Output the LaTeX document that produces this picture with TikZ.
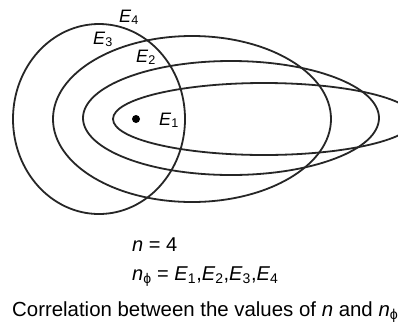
\documentclass[tikz,border=0pt]{standalone}
\usepackage{fontspec}
\setmainfont{Liberation Sans}

\begin{document}
\begin{tikzpicture}[
		x=1pt, y=-1pt,
		orbit/.style={line width=1.8pt, draw=black!85},
		lab/.style={inner sep=0pt, anchor=base west, font=\fontsize{18}{21}\selectfont},
		txt/.style={inner sep=0pt, anchor=base west, font=\fontsize{20}{24}\selectfont}
		]
		
		% ==========================================
		% PAGE FRAME (picture is cut on the right)
		% ==========================================
		\clip (0,0) rectangle (398,322);
		\fill[white] (0,0) rectangle (398,322);
		
		% ==========================================
		% ORBITS E1 .. E4
		% ==========================================
		\draw[orbit] (99,119) ellipse [x radius=86pt, y radius=95pt];   % E4
		\draw[orbit] (192,119) ellipse [x radius=139pt, y radius=83pt]; % E3
		\draw[orbit] (231,118) ellipse [x radius=148pt, y radius=57pt]; % E2
		\draw[orbit] (264,119) ellipse [x radius=151pt, y radius=36pt]; % E1
		
		% Nucleus
		\node[circle, fill=black, inner sep=0pt, minimum size=8pt] (nucleus) at (136,119) {};
		
		% Orbit labels
		\node[lab] (E1) at (159,125) {\textit{E}\textsubscript{1}};
		\node[lab] (E2) at (136,62) {\textit{E}\textsubscript{2}};
		\node[lab] (E3) at (93,44) {\textit{E}\textsubscript{3}};
		\node[lab] (E4) at (119,22) {\textit{E}\textsubscript{4}};
		
		% ==========================================
		% TEXT BELOW
		% ==========================================
		\node[txt] (nval) at (132,251) {\textit{n} = 4};
		\node[txt] (nphi) at (132,280) {\textit{n}\textsubscript{ϕ} = \textit{E}\textsubscript{1},\textit{E}\textsubscript{2},\textit{E}\textsubscript{3},\textit{E}\textsubscript{4}};
		\node[txt, font=\fontsize{20.4}{24}\selectfont] (caption) at (12,316) {Correlation between the values of \textit{n} and \textit{n}\textsubscript{ϕ}};
		
	\end{tikzpicture}
\end{document}
